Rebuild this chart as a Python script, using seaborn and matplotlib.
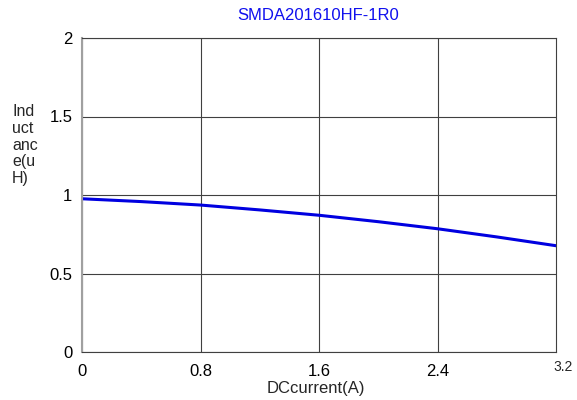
import matplotlib
matplotlib.use("Agg")
import matplotlib.pyplot as plt
import seaborn as sns
import pandas as pd

current = [0.0, 0.4, 0.8, 1.2, 1.6, 2.0, 2.4, 2.8, 3.2]
inductance = [0.976, 0.958, 0.936, 0.905, 0.871, 0.830, 0.785, 0.733, 0.677]
x_ticks = [0, 0.8, 1.6, 2.4]
x_tick_labels = ["0", "0.8", "1.6", "2.4"]
y_ticks = [0, 0.5, 1, 1.5, 2]
y_tick_labels = ["0", "0.5", "1", "1.5", "2"]
title = "SMDA201610HF-1R0"
xlabel = "DCcurrent(A)"
ylabel = "Ind\nuct\nanc\ne(u\nH)"

sns.set_style("white")
plt.rcParams['font.family'] = ['Liberation Sans', 'DejaVu Sans']

df = pd.DataFrame({"x": current, "y": inductance})
fig = plt.figure(figsize=(5.77, 4.0), dpi=100)
ax = fig.add_axes([82/577, 1-352/400, (556-82)/577, (352-38)/400])
sns.lineplot(data=df, x="x", y="y", ax=ax, color="#0000e0", linewidth=2.2)
ax.set_xlim(0, 3.2)
ax.set_ylim(0, 2)
ax.set_xticks(x_ticks)
ax.set_xticklabels(x_tick_labels, fontsize=12)
ax.set_yticks(y_ticks)
ax.set_yticklabels(y_tick_labels, fontsize=12)
ax.tick_params(axis='both', length=0, colors='black')
ax.tick_params(axis='x', pad=9)
ax.tick_params(axis='y', pad=7)
ax.grid(True, color='#404040', linewidth=0.8)
for s in ['top', 'right', 'bottom']:
    ax.spines[s].set_color('#404040')
    ax.spines[s].set_linewidth(0.8)
ax.spines['left'].set_color('#a0a0a0')
ax.spines['left'].set_linewidth(1.5)
ax.set_xlabel("")
ax.set_ylabel("")
fig.text(563/577, 1-367/400, "3.2", ha='center', va='center', fontsize=10)
fig.text(316/577, 1-388/400, xlabel, ha='center', va='center', fontsize=12)
fig.text(318.5/577, 1-16/400, title, ha='center', va='center', fontsize=12, color='#1010ee')
fig.text(12/577, 1-145/400, ylabel, ha='left', va='center', fontsize=11.5, linespacing=1.15)
fig.savefig("out.png", dpi=100)
